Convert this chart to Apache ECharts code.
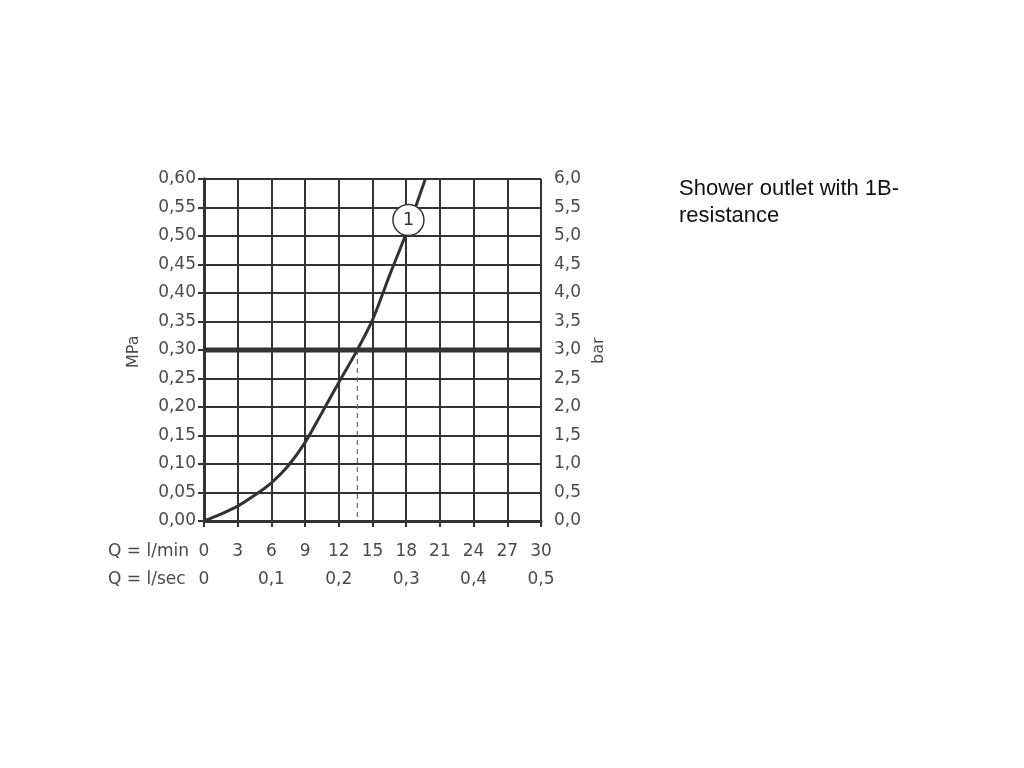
<!DOCTYPE html>
<html>
<head>
<meta charset="utf-8">
<script src="https://cdn.jsdelivr.net/npm/echarts@6/dist/echarts.min.js"></script>
<style>html,body{margin:0;padding:0;background:#fff;}#c{width:1024px;height:768px;}</style>
</head>
<body>
<div id="c"></div>
<script>
// Data
const flowLmin = [0, 1.5, 3, 4.5, 6, 7.5, 9, 10.5, 12, 13.5, 15, 16.5, 18, 19.7];
const pressureMPa = [0, 0.012, 0.026, 0.045, 0.067, 0.097, 0.138, 0.19, 0.243, 0.295, 0.353, 0.43, 0.505, 0.60];
const refPressure = 0.30;          // thick reference line (MPa)
const operatingFlow = 13.65;       // dashed drop line (l/min)
const curveLabel = '1';
const curveLabelPos = [18.2, 0.528];
const titleLines = ['Shower outlet with 1B-', 'resistance'];

const fmt = (v, d) => v.toFixed(d).replace('.', ',');
const fontFam = 'DejaVu Sans';
const lblColor = '#4a4a4a';
const lineColor = '#333';
const fs = 17;

const chart = echarts.init(document.getElementById('c'));
chart.setOption({
  animation: false,
  backgroundColor: '#fff',
  grid: {left: 204, right: 483, top: 179, bottom: 247},
  xAxis: [
    {
      type: 'value', min: 0, max: 30, interval: 3, position: 'bottom',
      axisLine: {show: true, lineStyle: {color: lineColor, width: 3}},
      axisTick: {show: true, length: 6, lineStyle: {color: lineColor, width: 2}},
      axisLabel: {margin: 22, color: lblColor, fontSize: fs, fontFamily: fontFam, formatter: v => String(v)},
      splitLine: {show: true, lineStyle: {color: lineColor, width: 2}}
    },
    {
      type: 'value', min: 0, max: 0.5, interval: 0.1, position: 'bottom', offset: 28,
      axisLine: {show: false}, axisTick: {show: false}, splitLine: {show: false},
      axisLabel: {margin: 22, color: lblColor, fontSize: fs, fontFamily: fontFam,
        formatter: v => v === 0 ? '0' : fmt(v, 1)}
    }
  ],
  yAxis: [
    {
      type: 'value', min: 0, max: 0.6, interval: 0.05, position: 'left',
      axisLine: {show: true, lineStyle: {color: lineColor, width: 3}},
      axisTick: {show: true, length: 6, lineStyle: {color: lineColor, width: 2}},
      axisLabel: {margin: 8, color: lblColor, fontSize: fs, fontFamily: fontFam, formatter: v => fmt(v, 2)},
      splitLine: {show: true, lineStyle: {color: lineColor, width: 2}}
    },
    {
      type: 'value', min: 0, max: 6, interval: 0.5, position: 'right',
      axisLine: {show: true, lineStyle: {color: lineColor, width: 3}},
      axisTick: {show: true, length: 6, lineStyle: {color: lineColor, width: 2}},
      axisLabel: {margin: 13, color: lblColor, fontSize: fs, fontFamily: fontFam, formatter: v => fmt(v, 1)},
      splitLine: {show: false}
    }
  ],
  graphic: [
    {type: 'text', left: 108, top: 543, style: {text: 'Q = l/min', fill: lblColor, font: '17px "DejaVu Sans"'}},
    {type: 'text', left: 108, top: 571, style: {text: 'Q = l/sec', fill: lblColor, font: '17px "DejaVu Sans"'}},
    {type: 'text', x: 126, y: 368, rotation: Math.PI / 2, style: {text: 'MPa', fill: lblColor, font: '16px "DejaVu Sans"'}},
    {type: 'text', x: 591, y: 364, rotation: Math.PI / 2, style: {text: 'bar', fill: lblColor, font: '16px "DejaVu Sans"'}},
    {type: 'text', left: 679, top: 175, style: {text: titleLines.join('\n'), fill: '#111', font: '22px "Liberation Sans"', lineHeight: 27}}
  ],
  series: [
    {
      type: 'line', xAxisIndex: 0, yAxisIndex: 0, symbol: 'none', z: 3,
      data: [[0, refPressure], [30, refPressure]],
      lineStyle: {color: lineColor, width: 5}
    },
    {
      type: 'line', xAxisIndex: 0, yAxisIndex: 0, symbol: 'none', z: 3,
      data: [[operatingFlow, refPressure], [operatingFlow, 0]],
      lineStyle: {color: '#666', width: 1.2, type: [5, 4]}
    },
    {
      type: 'line', xAxisIndex: 0, yAxisIndex: 0, symbol: 'none', smooth: 0.3, z: 4,
      data: flowLmin.map((x, i) => [x, pressureMPa[i]]),
      lineStyle: {color: lineColor, width: 3}
    },
    {
      type: 'scatter', xAxisIndex: 0, yAxisIndex: 0, z: 6,
      data: [curveLabelPos],
      symbol: 'circle', symbolSize: 31,
      itemStyle: {color: '#fff', borderColor: lineColor, borderWidth: 1.5, opacity: 1},
      label: {show: true, position: 'inside', formatter: curveLabel, color: '#333', fontSize: 18, fontFamily: fontFam}
    }
  ]
});
</script>
</body>
</html>
